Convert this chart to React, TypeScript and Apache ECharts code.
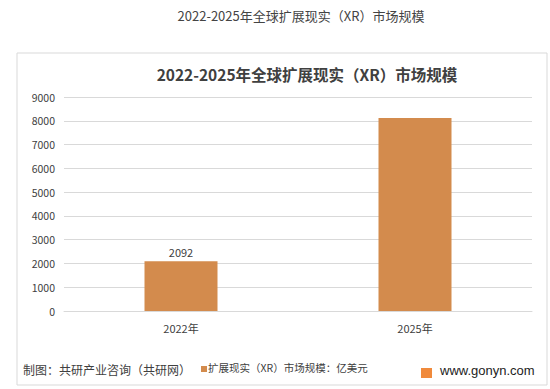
import React, { useEffect, useRef } from "react";
import * as echarts from "echarts";

const categories = ["2022年", "2025年"];
const seriesName = "扩展现实（XR）市场规模：亿美元";
const values = [2092, 8120];
const labelShown = [true, false];
const yTicks = [0, 1000, 2000, 3000, 4000, 5000, 6000, 7000, 8000, 9000];

export default function App() {
  const ref = useRef<HTMLDivElement>(null);
  useEffect(() => {
    if (!ref.current) return;
    const chart = echarts.init(ref.current, null, { renderer: "svg" });
    const font = "'Noto Sans CJK SC', 'Noto Sans', sans-serif";
    chart.setOption({
      animation: false,
      backgroundColor: "#ffffff",
      textStyle: { fontFamily: font },
      title: [
        {
          text: "2022-2025年全球扩展现实（XR）市场规模",
          left: 296,
          textAlign: "center",
          top: 4,
          textStyle: { fontSize: 13, fontWeight: "normal", color: "#444", fontFamily: font },
        },
        {
          text: "2022-2025年全球扩展现实（XR）市场规模",
          left: 302,
          textAlign: "center",
          top: 61,
          textStyle: { fontSize: 15.5, fontWeight: "bold", color: "#404040", fontFamily: font },
        },
      ],
      grid: { left: 64, right: 18, top: 97, bottom: 78 },
      xAxis: {
        type: "category",
        data: categories,
        axisLine: { lineStyle: { color: "#d9d9d9" } },
        axisTick: { show: false },
        axisLabel: { color: "#404040", fontSize: 11, margin: 11, fontFamily: font },
      },
      yAxis: {
        type: "value",
        min: 0,
        max: 9000,
        interval: 1000,
        axisLine: { show: false },
        axisTick: { show: false },
        splitLine: { lineStyle: { color: "#d9d9d9" } },
        axisLabel: {
          color: "#404040",
          fontSize: 10.5,
          margin: 9,
          fontFamily: font,
          formatter: (v: number) => (yTicks.includes(v) ? String(v) : ""),
        },
      },
      series: [
        {
          name: seriesName,
          type: "bar",
          barWidth: 73,
          data: values.map((v, i) => ({
            value: v,
            label: { show: labelShown[i] },
          })),
          itemStyle: { color: "#D38B4D" },
          label: {
            position: "top",
            color: "#404040",
            fontSize: 11,
            distance: 4,
            fontFamily: font,
          },
        },
      ],
      graphic: [
        {
          type: "rect",
          shape: { x: 17, y: 53, width: 530, height: 332 },
          style: { fill: "none", stroke: "#d9d9d9", lineWidth: 1 },
          z: -1,
        },
        {
          type: "text",
          left: 23,
          top: 363,
          style: { text: "制图：共研产业咨询（共研网）", fontSize: 12, fill: "#404040", fontFamily: font },
        },
        {
          type: "rect",
          shape: { x: 201, y: 366, width: 6, height: 6 },
          style: { fill: "#D38B4D" },
        },
        {
          type: "text",
          left: 208,
          top: 362,
          style: { text: seriesName, fontSize: 10.5, fill: "#404040", fontFamily: font },
        },
        {
          type: "rect",
          shape: { x: 421, y: 368, width: 11, height: 10 },
          style: { fill: "#F08A3C" },
        },
        {
          type: "text",
          left: 440,
          top: 364,
          style: { text: "www.gonyn.com", fontSize: 13, fill: "#222", fontFamily: "'Liberation Sans', Arial, sans-serif" },
        },
      ],
    });
    return () => chart.dispose();
  }, []);
  return <div ref={ref} style={{ width: 550, height: 389, position: "absolute", left: 0, top: 0 }} />;
}
